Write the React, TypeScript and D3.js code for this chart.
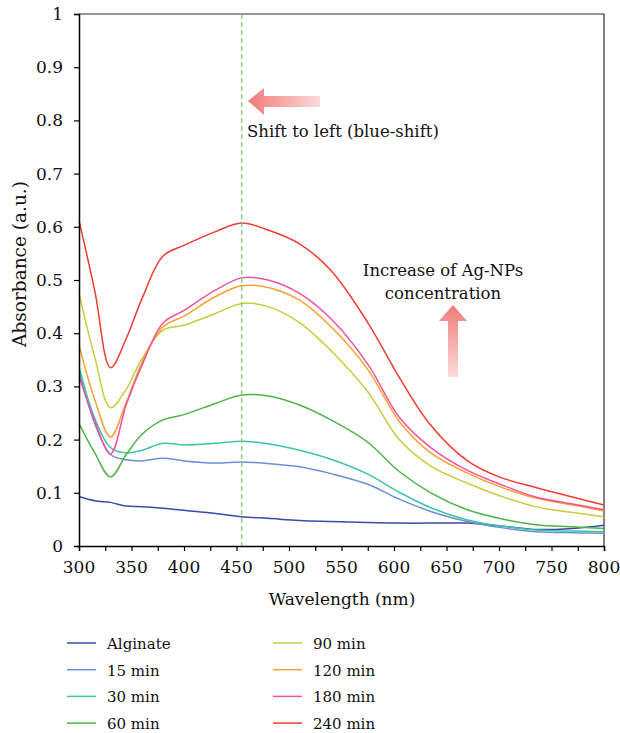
import React, { useRef, useEffect } from "react";
import * as d3 from "d3";

const wavelengths = [300, 315, 330, 345, 360, 380, 400, 430, 455, 480, 510, 540, 575, 605, 635, 670, 700, 735, 770, 800];

const alginate = [0.093, 0.085, 0.082, 0.075, 0.074, 0.071, 0.067, 0.061, 0.055, 0.052, 0.048, 0.046, 0.044, 0.043, 0.043, 0.043, 0.038, 0.031, 0.033, 0.039];
const min15 = [0.331, 0.23, 0.172, 0.162, 0.16, 0.165, 0.16, 0.156, 0.158, 0.155, 0.149, 0.136, 0.116, 0.088, 0.065, 0.046, 0.035, 0.027, 0.025, 0.024];
const min30 = [0.337, 0.24, 0.185, 0.175, 0.18, 0.193, 0.19, 0.193, 0.197, 0.192, 0.18, 0.163, 0.135, 0.101, 0.072, 0.049, 0.038, 0.03, 0.028, 0.027];
const min60 = [0.23, 0.175, 0.13, 0.172, 0.21, 0.237, 0.247, 0.268, 0.284, 0.282, 0.265, 0.237, 0.195, 0.14, 0.1, 0.068, 0.052, 0.04, 0.036, 0.033];
const min90 = [0.475, 0.355, 0.26, 0.295, 0.352, 0.406, 0.415, 0.437, 0.456, 0.45, 0.42, 0.367, 0.29, 0.2, 0.15, 0.118, 0.095, 0.074, 0.063, 0.055];
const min120 = [0.378, 0.275, 0.205, 0.27, 0.345, 0.412, 0.432, 0.469, 0.489, 0.486, 0.462, 0.412, 0.332, 0.234, 0.175, 0.137, 0.112, 0.09, 0.077, 0.066];
const min180 = [0.32, 0.235, 0.173, 0.266, 0.34, 0.419, 0.443, 0.481, 0.504, 0.5, 0.475, 0.427, 0.342, 0.242, 0.185, 0.142, 0.117, 0.092, 0.079, 0.068];
const min240 = [0.612, 0.48, 0.335, 0.39, 0.465, 0.545, 0.565, 0.591, 0.607, 0.594, 0.568, 0.518, 0.42, 0.317, 0.227, 0.16, 0.13, 0.11, 0.092, 0.077];

const seriesNames = ["Alginate", "15 min", "30 min", "60 min", "90 min", "120 min", "180 min", "240 min"];
const seriesValues = [alginate, min15, min30, min60, min90, min120, min180, min240];
const seriesColors = ["#3c4aa6", "#6b8fd8", "#3cc6a2", "#4cb54a", "#c8cc3e", "#f7a232", "#f1529f", "#f03c32"];

const xTicks = [300, 350, 400, 450, 500, 550, 600, 650, 700, 750, 800];
const yTicks = [0, 0.1, 0.2, 0.3, 0.4, 0.5, 0.6, 0.7, 0.8, 0.9, 1];
const peakLine = 455;

export default function App() {
  const ref = useRef(null);

  useEffect(() => {
    const W = 620;
    const H = 733;
    const left = 79, right = 604, top = 14, bottom = 546;
    const font = "'DejaVu Serif', 'Liberation Serif', serif";

    d3.select(ref.current).selectAll("*").remove();
    const svg = d3
      .select(ref.current)
      .append("svg")
      .attr("width", W)
      .attr("height", H)
      .style("position", "absolute")
      .style("left", 0)
      .style("top", 0)
      .style("background", "#fff");

    const x = d3.scaleLinear().domain([300, 800]).range([left, right]);
    const y = d3.scaleLinear().domain([0, 1]).range([bottom, top]);

    const defs = svg.append("defs");
    const gl = defs.append("linearGradient").attr("id", "gl").attr("x1", 0).attr("x2", 1).attr("y1", 0).attr("y2", 0);
    gl.append("stop").attr("offset", "0%").attr("stop-color", "#f07a7a");
    gl.append("stop").attr("offset", "100%").attr("stop-color", "#fbdada");
    const gu = defs.append("linearGradient").attr("id", "gu").attr("x1", 0).attr("x2", 0).attr("y1", 0).attr("y2", 1);
    gu.append("stop").attr("offset", "0%").attr("stop-color", "#f07a7a");
    gu.append("stop").attr("offset", "100%").attr("stop-color", "#fcdcdc");

    // frame
    svg.append("path")
      .attr("d", `M${left},${top}H${right}V${bottom}`)
      .attr("fill", "none")
      .attr("stroke", "#333")
      .attr("stroke-width", 1.2);

    // curves
    const line = d3
      .line<number>()
      .x((d, i) => x(wavelengths[i]))
      .y((d) => y(d))
      .curve(d3.curveCatmullRom.alpha(0.5));

    seriesValues.forEach((vals, i) => {
      svg.append("path")
        .attr("d", line(vals))
        .attr("fill", "none")
        .attr("stroke", seriesColors[i])
        .attr("stroke-width", 1.5);
    });

    // dashed peak marker
    svg.append("line")
      .attr("x1", x(peakLine)).attr("x2", x(peakLine))
      .attr("y1", top).attr("y2", bottom)
      .attr("stroke", "#7cc66c")
      .attr("stroke-width", 1.2)
      .attr("stroke-dasharray", "5,3");

    // axes
    const xAxis = svg.append("g")
      .attr("transform", `translate(0,${bottom})`)
      .call(d3.axisBottom(x).tickValues(d3.range(300, 801, 25)).tickSize(5).tickFormat(() => ""));
    xAxis.select(".domain").attr("stroke", "#000").attr("stroke-width", 1.5);
    xAxis.selectAll(".tick line").attr("stroke", "#000").attr("stroke-width", 1.2);

    svg.append("g").selectAll("text")
      .data(xTicks)
      .enter()
      .append("text")
      .attr("x", (d) => x(d))
      .attr("y", 573)
      .attr("text-anchor", "middle")
      .attr("font-family", font)
      .attr("font-size", 17)
      .attr("fill", "#111")
      .text((d) => d);

    const yAxis = svg.append("g")
      .attr("transform", `translate(${left},0)`)
      .call(d3.axisLeft(y).tickValues(yTicks).tickSize(5).tickFormat((d) => String(d)));
    yAxis.attr("font-family", font).attr("font-size", 17);
    yAxis.select(".domain").attr("stroke", "#000").attr("stroke-width", 1.5);
    yAxis.selectAll(".tick line").attr("stroke", "#000").attr("stroke-width", 1.2);
    yAxis.selectAll(".tick text")
      .attr("fill", "#111")
      .attr("x", -16);

    svg.append("text")
      .attr("x", 342)
      .attr("y", 605)
      .attr("text-anchor", "middle")
      .attr("font-family", font)
      .attr("font-size", 17)
      .attr("fill", "#111")
      .text("Wavelength (nm)");

    svg.append("text")
      .attr("transform", "translate(26,264) rotate(-90)")
      .attr("text-anchor", "middle")
      .attr("font-family", font)
      .attr("font-size", 18.5)
      .attr("fill", "#111")
      .text("Absorbance (a.u.)");

    // left arrow (blue shift)
    svg.append("path")
      .attr("d", "M248,101 L264,88 L264,96 L320,96 L320,107 L264,107 L264,115 Z")
      .attr("fill", "url(#gl)");
    svg.append("text")
      .attr("x", 247)
      .attr("y", 137)
      .attr("font-family", font)
      .attr("font-size", 16.5)
      .attr("fill", "#111")
      .text("Shift to left (blue-shift)");

    // up arrow (concentration)
    svg.append("path")
      .attr("d", "M453,305 L467,321 L458,321 L458,377 L448,377 L448,321 L439,321 Z")
      .attr("fill", "url(#gu)");
    svg.append("text")
      .attr("x", 443)
      .attr("y", 276)
      .attr("text-anchor", "middle")
      .attr("font-family", font)
      .attr("font-size", 16.5)
      .attr("fill", "#111")
      .text("Increase of Ag-NPs");
    svg.append("text")
      .attr("x", 443)
      .attr("y", 299)
      .attr("text-anchor", "middle")
      .attr("font-family", font)
      .attr("font-size", 16.5)
      .attr("fill", "#111")
      .text("concentration");

    // legend, two columns of four
    const legend = svg.append("g");
    seriesNames.forEach((name, i) => {
      const col = Math.floor(i / 4);
      const row = i % 4;
      const lx = 67 + col * 206;
      const ly = 643 + row * 26.7;
      legend.append("line")
        .attr("x1", lx).attr("x2", lx + 29)
        .attr("y1", ly).attr("y2", ly)
        .attr("stroke", seriesColors[i])
        .attr("stroke-width", 1.5);
      legend.append("text")
        .attr("x", lx + 40)
        .attr("y", ly + 6)
        .attr("font-family", font)
        .attr("font-size", 15)
        .attr("fill", "#111")
        .text(name);
    });
  }, []);

  return <div ref={ref} />;
}
